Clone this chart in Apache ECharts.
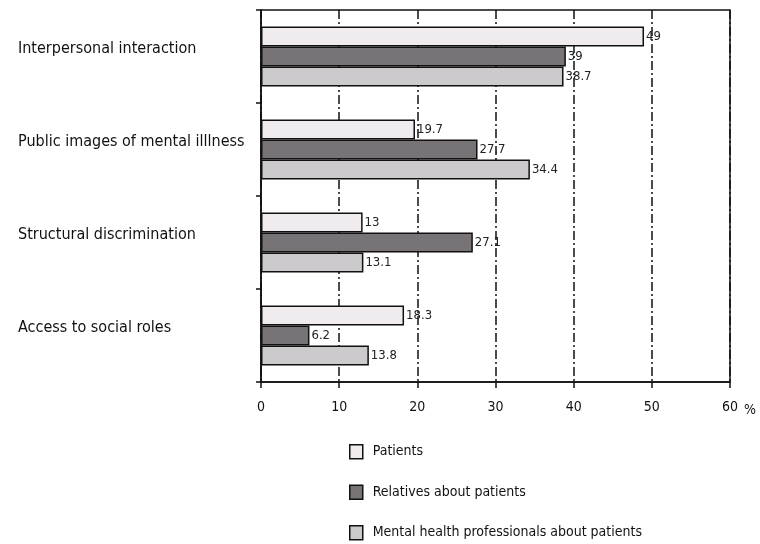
<!DOCTYPE html>
<html>
<head>
<meta charset="utf-8">
<script src="https://cdn.jsdelivr.net/npm/echarts@6/dist/echarts.min.js"></script>
<style>
html,body{margin:0;padding:0;background:#fff;}
#chart{width:760px;height:544px;}
</style>
</head>
<body>
<div id="chart"></div>
<script>
const categories = ['Interpersonal interaction', 'Public images of mental illlness', 'Structural discrimination', 'Access to social roles'];
const seriesNames = ['Patients', 'Relatives about patients', 'Mental health professionals about patients'];
const patients = [49, 19.7, 13, 18.3];
const relatives = [39, 27.7, 27.1, 6.2];
const professionals = [38.7, 34.4, 13.1, 13.8];
const xTicks = [0, 10, 20, 30, 40, 50, 60];
const colors = ['#efebef', '#777377', '#cccacc'];

const FONT = '"Liberation Sans Narrow", "Arial Narrow", "DejaVu Sans Condensed", "Liberation Sans", Arial, sans-serif';
const chart = echarts.init(document.getElementById('chart'));

function makeSeries(name, data, color) {
  return {
    name: name,
    type: 'bar',
    data: data,
    barWidth: 20,
    barGap: '0%',
    itemStyle: { color: color, borderColor: '#111', borderWidth: 1.5 },
    label: {
      show: true, position: 'right', distance: 2,
      fontFamily: FONT, fontSize: 13, color: '#222',
      padding: [0, 0, 6, 0]
    }
  };
}

chart.setOption({
  animation: false,
  backgroundColor: '#fff',
  textStyle: { fontFamily: FONT },
  grid: { left: 261, right: 30, top: 10, bottom: 162, show: true, borderColor: '#111', borderWidth: 1.5, backgroundColor: 'transparent' },
  legend: {
    orient: 'vertical', left: 349, top: 444, padding: 0,
    icon: 'rect',
    itemWidth: 13, itemHeight: 14, itemGap: 25,
    data: seriesNames,
    textStyle: { fontFamily: FONT, fontSize: 14, color: '#111', padding: [0, 0, 0, 5] },
    itemStyle: { borderColor: '#111', borderWidth: 1.5 }
  },
  xAxis: {
    type: 'value', min: xTicks[0], max: xTicks[xTicks.length - 1], interval: 10,
    name: '%', nameLocation: 'end', nameGap: 8,
    nameTextStyle: { fontFamily: FONT, fontSize: 14, color: '#111', verticalAlign: 'top', padding: [21, 0, 0, 0] },
    axisLine: { show: true, lineStyle: { color: '#111', width: 1.5 } },
    axisTick: { show: true, length: 6, lineStyle: { color: '#111', width: 1.5 } },
    axisLabel: { fontFamily: FONT, fontSize: 14, color: '#111', margin: 18 },
    splitLine: { show: true, lineStyle: { color: '#111', width: 1.5, type: [9, 3, 2, 3] } }
  },
  yAxis: {
    type: 'category', inverse: true, data: categories,
    axisLine: { show: true, lineStyle: { color: '#111', width: 1.5 } },
    axisTick: { show: true, length: 5, lineStyle: { color: '#111', width: 1.5 } },
    axisLabel: {
      fontFamily: FONT, fontSize: 16, color: '#111', align: 'left', margin: 243,
      verticalAlign: 'bottom'
    },
    splitLine: { show: false }
  },
  series: [
    makeSeries(seriesNames[0], patients, colors[0]),
    makeSeries(seriesNames[1], relatives, colors[1]),
    makeSeries(seriesNames[2], professionals, colors[2])
  ]
});
</script>
</body>
</html>
